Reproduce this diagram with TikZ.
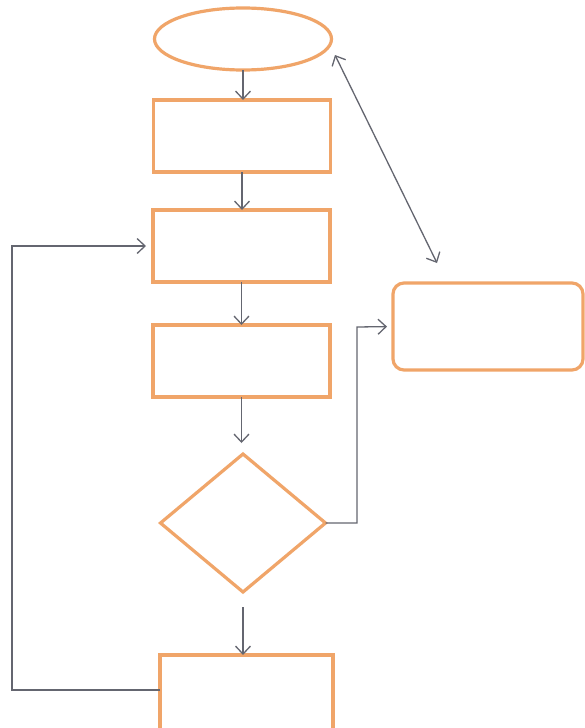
\documentclass[tikz,border=0pt]{standalone}
\usetikzlibrary{shapes.geometric,arrows.meta}
\definecolor{boxor}{RGB}{240,165,105}
\definecolor{lngray}{RGB}{100,102,112}
\begin{document}
\begin{tikzpicture}[x=1pt,y=1pt,
  box/.style={draw=boxor,line width=3.2pt,fill=white,inner sep=0pt,outer sep=0pt},
  arr/.style={draw=lngray,line width=1.3pt,-{Straight Barb[length=8pt,width=15pt,line width=1.3pt]}},
  dbl/.style={draw=lngray,line width=1.3pt,{Straight Barb[length=8pt,width=15pt,line width=1.3pt]}-{Straight Barb[length=8pt,width=15pt,line width=1.3pt]}}]
\useasboundingbox (0,-728) rectangle (585,0);
\fill[white] (0,-728) rectangle (585,0);
\node[box, ellipse, minimum width=177pt, minimum height=62pt] (e) at (243,-39) {};
\node[box, rectangle, minimum width=177pt, minimum height=72pt] (r1) at (242,-136) {};
\node[box, rectangle, minimum width=177pt, minimum height=72pt] (r2) at (241.5,-246) {};
\node[box, rectangle, minimum width=177pt, minimum height=72pt] (r3) at (241.5,-361) {};
\node[box, diamond, minimum width=165pt, minimum height=138pt] (d) at (243,-523) {};
\node[box, rectangle, minimum width=173pt, minimum height=76pt] (r4) at (246.5,-693) {};
\node[box, rectangle, rounded corners=11pt, minimum width=190pt, minimum height=87pt] (r5) at (488,-326.5) {};
\coordinate (k1) at (357,-327);
\coordinate (k2) at (12,-246);
\coordinate (k3) at (12,-690);
\coordinate (a1) at (335,-55);
\coordinate (a2) at (437,-263);
\draw[arr] (e.south) -- (e.south |- r1.north);
\draw[arr] (r1.south) -- (r1.south |- r2.north);
\draw[arr] (r2.south) -- (r2.south |- r3.north);
\draw[arr, shorten >=11pt] (r3.south) -- (r3.south |- d.north);
\draw[arr, shorten <=15pt] (d.south) -- (d.south |- r4.north);
\draw[arr, shorten >=6pt] (d.east) -| (k1) -- (r5.west);
\draw[arr, shorten >=7pt] (r4.west |- k3) -- (k3) -- (k2) -- (r2.west);
\draw[dbl] (a1) -- (a2);
\end{tikzpicture}
\end{document}
